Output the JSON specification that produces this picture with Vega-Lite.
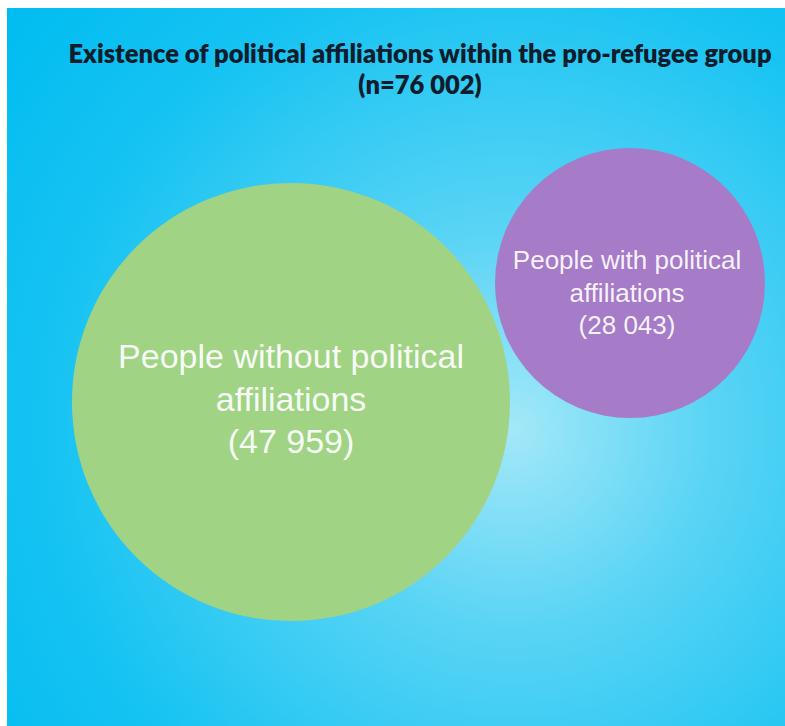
{
  "$schema": "https://vega.github.io/schema/vega-lite/v6.json",
  "width": 785,
  "height": 726,
  "autosize": {"type": "fit", "contains": "padding"},
  "padding": {"left": 7, "top": 8, "right": 0, "bottom": 0},
  "background": "white",
  "config": {"view": {"stroke": null}},
  "title": {
    "text": ["Existence of political affiliations within the pro-refugee group", "(n=76 002)"],
    "font": "Lato",
    "fontWeight": 800,
    "fontSize": 25.5,
    "lineHeight": 31,
    "color": "#0e1c2c",
    "anchor": "middle",
    "offset": -91,
    "dx": 24
  },
  "data": {
    "values": [
      {"group": "People without political affiliations", "label": "People without political\naffiliations\n(47 959)", "count": 47959},
      {"group": "People with political affiliations", "label": "People with political\naffiliations\n(28 043)", "count": 28043}
    ]
  },
  "layer": [
    {
      "data": {"values": [{"bg": 1}]},
      "mark": {
        "type": "rect",
        "color": {
          "gradient": "radial",
          "x1": 0.65, "y1": 0.58, "r1": 0,
          "x2": 0.65, "y2": 0.58, "r2": 0.85,
          "stops": [
            {"offset": 0, "color": "#a3e8f8"},
            {"offset": 0.3, "color": "#5ad4f5"},
            {"offset": 0.7, "color": "#16c3f2"},
            {"offset": 1, "color": "#00bcf1"}
          ]
        }
      },
      "encoding": {
        "x": {"value": 0},
        "x2": {"value": "width"},
        "y": {"value": 0},
        "y2": {"value": "height"}
      }
    },
    {
      "mark": {"type": "circle", "opacity": 1},
      "encoding": {
        "x": {"field": "group", "type": "nominal", "axis": null, "sort": null, "scale": {"type": "point", "padding": 0, "range": [284, 623]}},
        "y": {"field": "group", "type": "nominal", "axis": null, "sort": null, "scale": {"type": "point", "padding": 0, "range": [394, 275]}},
        "size": {"field": "count", "type": "quantitative", "legend": null, "scale": {"type": "linear", "domain": [28043, 47959], "range": [72900, 191844]}},
        "color": {"field": "group", "type": "nominal", "legend": null, "sort": null, "scale": {"range": ["#a1d384", "#a67bc7"]}}
      }
    },
    {
      "transform": [{"filter": "datum.count > 40000"}],
      "mark": {"type": "text", "font": "Liberation Sans", "fontSize": 34, "lineHeight": 42.5, "lineBreak": "\n", "color": "#ffffff", "opacity": 0.92, "align": "center", "baseline": "middle", "dy": -44},
      "encoding": {
        "x": {"field": "group", "type": "nominal", "sort": null},
        "y": {"field": "group", "type": "nominal", "sort": null},
        "text": {"field": "label"}
      }
    },
    {
      "transform": [{"filter": "datum.count < 40000"}],
      "mark": {"type": "text", "font": "Liberation Sans", "fontSize": 26, "lineHeight": 32.5, "lineBreak": "\n", "color": "#ffffff", "opacity": 0.9, "align": "center", "baseline": "middle", "dy": -22, "dx": -3},
      "encoding": {
        "x": {"field": "group", "type": "nominal", "sort": null},
        "y": {"field": "group", "type": "nominal", "sort": null},
        "text": {"field": "label"}
      }
    }
  ]
}
